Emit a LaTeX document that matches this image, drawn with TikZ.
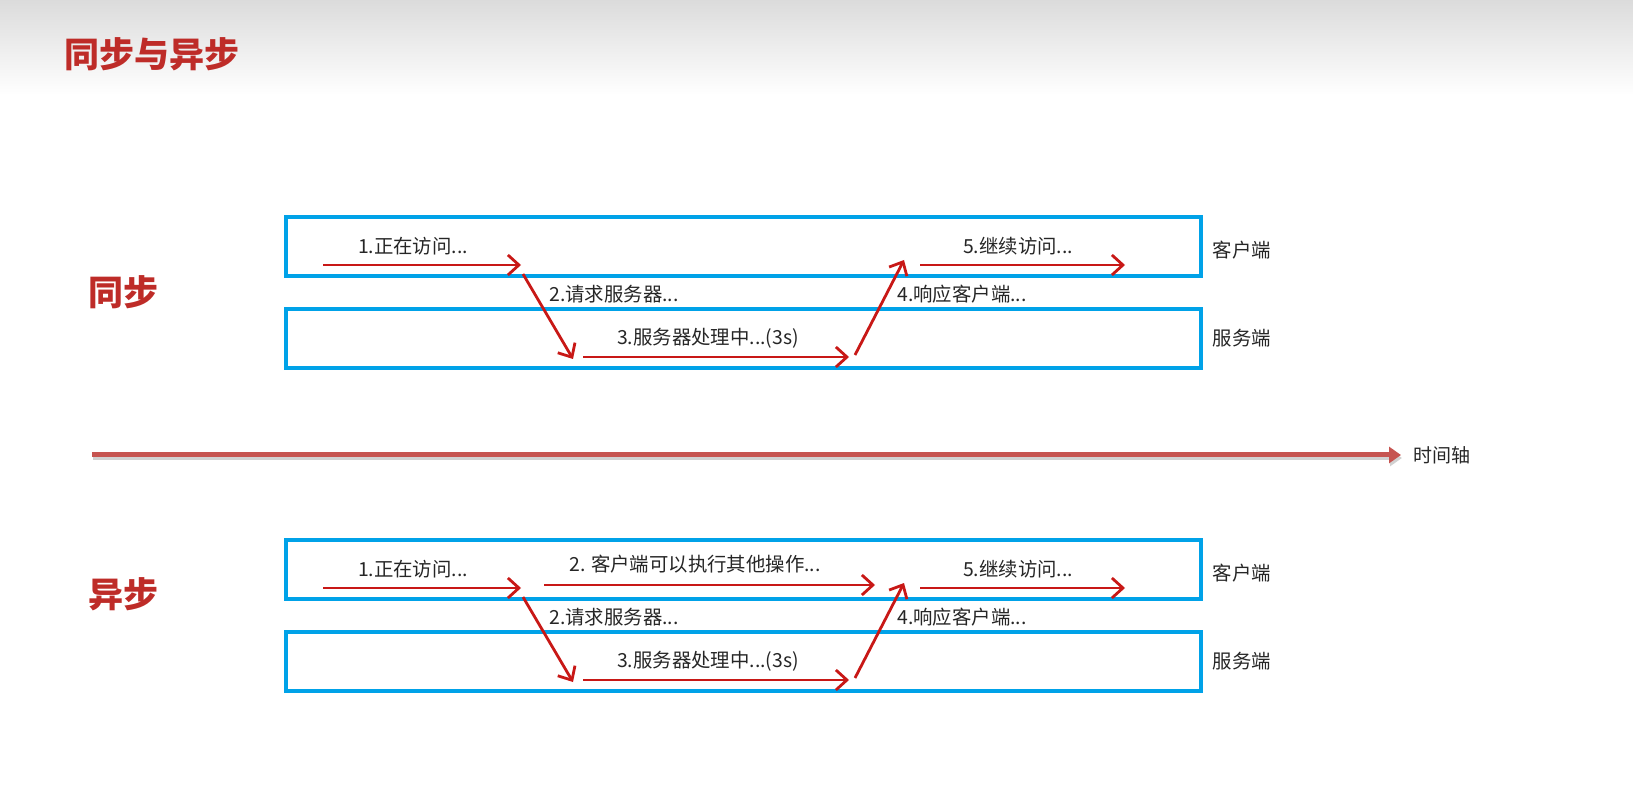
\documentclass[tikz,border=0pt]{standalone}
\usepackage{fontspec}
\setmainfont{Noto Sans CJK SC}
\usetikzlibrary{arrows.meta}
\definecolor{laneblue}{RGB}{0,162,232}
\definecolor{flowred}{RGB}{200,24,22}
\definecolor{headred}{RGB}{190,44,40}
\definecolor{axisred}{RGB}{198,84,80}

\begin{document}
\begin{tikzpicture}[x=0.5pt, y=-0.5pt, font=\fontsize{9.7}{12}\selectfont,
  lane/.style={draw=laneblue, line width=2pt},
  flow/.style={flowred, line width=1.4pt, -{Straight Barb[length=5.5pt,width=10pt]}},
  head/.style={text=headred, font=\fontsize{17.5}{20}\selectfont\bfseries},
  txt/.style={inner sep=0pt, text=black!85}]
  \useasboundingbox (0,0) rectangle (1633,807);
  \shade[top color=black!14, bottom color=white] (0,0) rectangle (1633,95);
  \node[head, anchor=west] (title) at (57,54) {同步与异步};

  % time axis
  \draw[black!18, line width=2.5pt, -{Triangle[length=6pt,width=8pt]}] (93,458) -- (1402,458);
  \coordinate (ax0) at (92,455);
  \coordinate (ax1) at (1401,455);
  \draw[axisred, line width=2.5pt, -{Triangle[length=6pt,width=8pt]}] (ax0) -- (ax1);
  \node[txt, anchor=west, font=\fontsize{9.5}{11}\selectfont] (axlbl) at (1413,455) {时间轴};

  \node[head] (sync) at (123,292) {同步};
  \node[head] (async) at (123,594) {异步};

  \foreach \dy/\tag in {0/s, 323/a} {
    \draw[lane] (286,{217+\dy}) rectangle (1201,{276+\dy});
    \draw[lane] (286,{309+\dy}) rectangle (1201,{368+\dy});
    \node[txt] (cli\tag) at (1242,{250+\dy}) {客户端};
    \node[txt] (srv\tag) at (1242,{338+\dy}) {服务端};
    \coordinate (p1\tag) at (323,{265+\dy});
    \coordinate (p2\tag) at (521,{265+\dy});
    \coordinate (p3\tag) at (523,{274+\dy});
    \coordinate (p4\tag) at (573,{359+\dy});
    \coordinate (p5\tag) at (583,{357+\dy});
    \coordinate (p6\tag) at (849,{357+\dy});
    \coordinate (p7\tag) at (855,{355+\dy});
    \coordinate (p8\tag) at (904,{260+\dy});
    \coordinate (p9\tag) at (920,{265+\dy});
    \coordinate (p10\tag) at (1125,{265+\dy});
    \draw[flow] (p1\tag) -- (p2\tag);
    \draw[flow] (p3\tag) -- (p4\tag);
    \draw[flow] (p5\tag) -- (p6\tag);
    \draw[flow] (p7\tag) -- (p8\tag);
    \draw[flow] (p9\tag) -- (p10\tag);
    \node[txt] (l1\tag) at (413,{246+\dy}) {1.正在访问...};
    \node[txt, anchor=west] (l2\tag) at (549,{294+\dy}) {2.请求服务器...};
    \node[txt] (l3\tag) at (708,{338+\dy}) {3.服务器处理中...(3s)};
    \node[txt, anchor=west] (l4\tag) at (897,{294+\dy}) {4.响应客户端...};
    \node[txt] (l5\tag) at (1018,{246+\dy}) {5.继续访问...};
  }

  % client keeps working while waiting
  \coordinate (q1) at (544,585);
  \coordinate (q2) at (875,585);
  \draw[flow] (q1) -- (q2);
  \node[txt] (busy) at (695,564) {2. 客户端可以执行其他操作...};
\end{tikzpicture}
\end{document}
